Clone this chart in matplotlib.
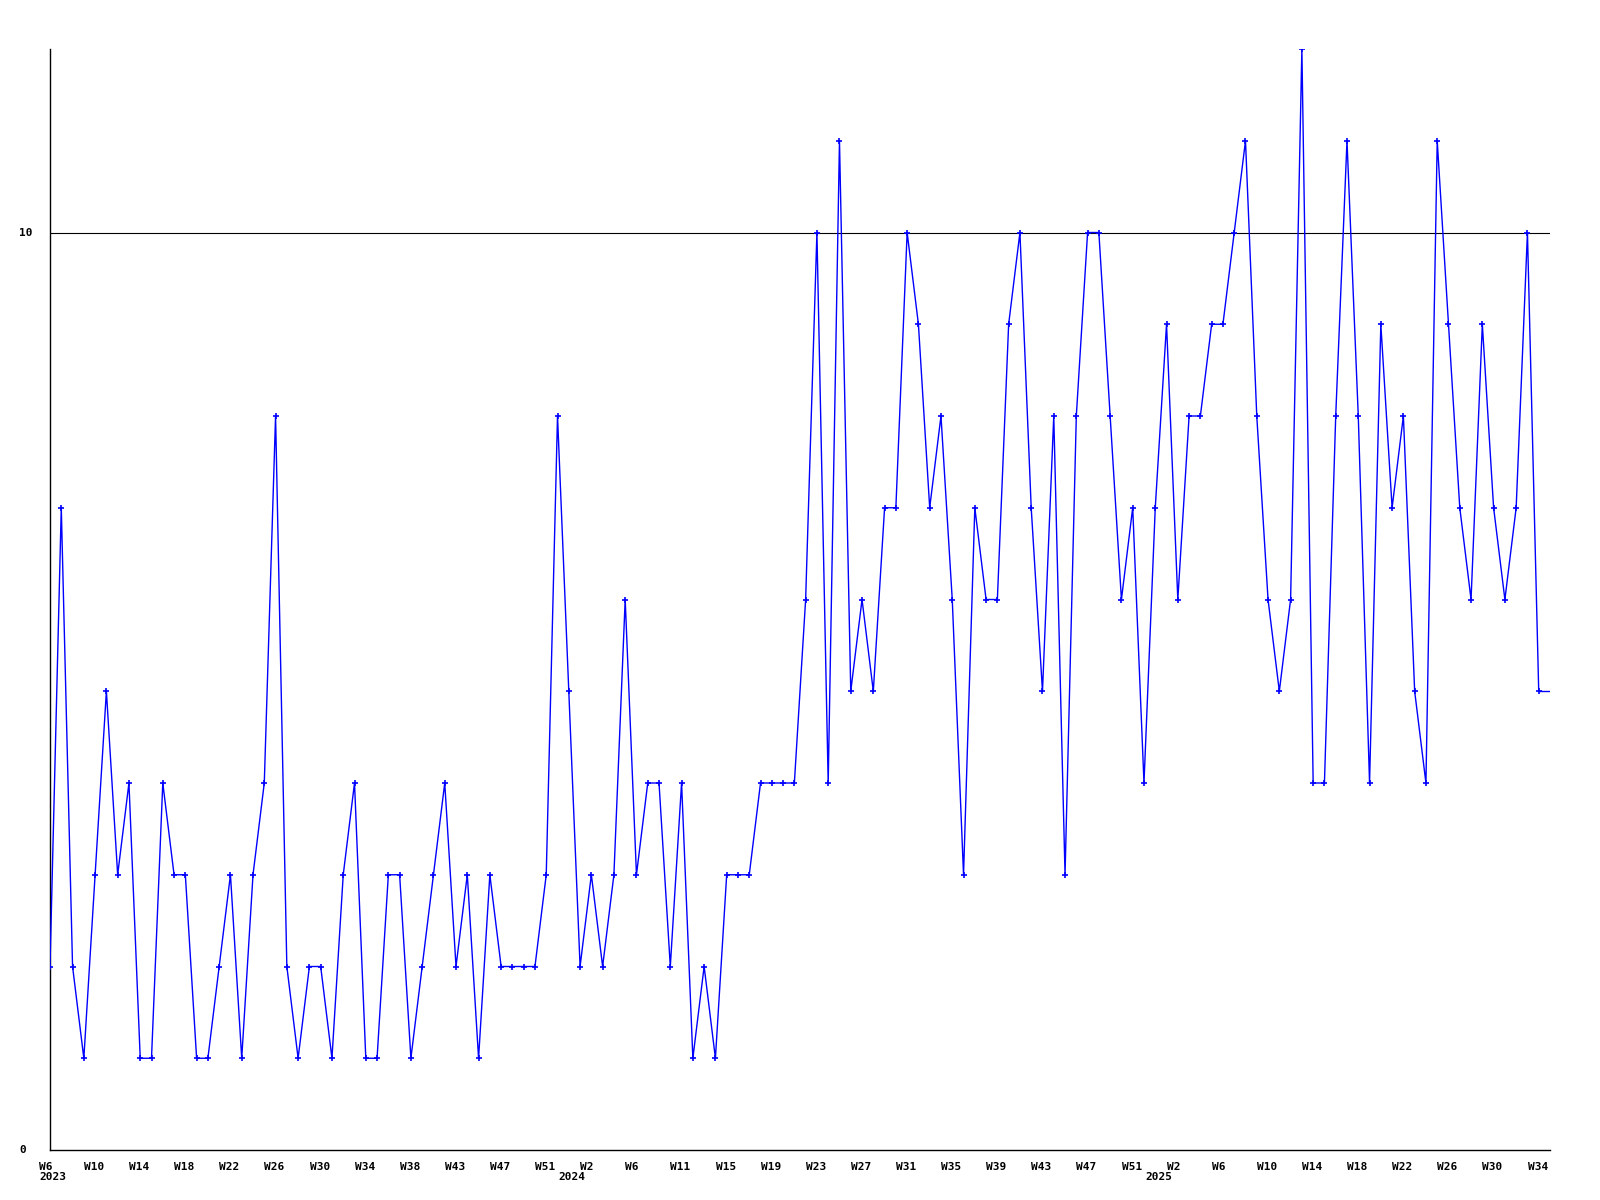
import matplotlib
matplotlib.use('Agg')
import matplotlib.pyplot as plt
import numpy as np

# weekly counts, 2023 W6 .. 2025 W34
counts = [2, 7, 2, 1, 3, 5, 3, 4, 1, 1, 4, 3, 3, 1, 1, 2, 3, 1, 3, 4,
          8, 2, 1, 2, 2, 1, 3, 4, 1, 1, 3, 3, 1, 2, 3, 4, 2, 3, 1, 3,
          2, 2, 2, 2, 3, 8, 5, 2, 3, 2, 3, 6, 3, 4, 4, 2, 4, 1, 2, 1,
          3, 3, 3, 4, 4, 4, 4, 6, 10, 4, 11, 5, 6, 5, 7, 7, 10, 9, 7, 8,
          6, 3, 7, 6, 6, 9, 10, 7, 5, 8, 3, 8, 10, 10, 8, 6, 7, 4, 7, 9,
          6, 8, 8, 9, 9, 10, 11, 8, 6, 5, 6, 12, 4, 4, 8, 11, 8, 4, 9, 7,
          8, 5, 4, 11, 9, 7, 6, 9, 7, 6, 7, 10, 5]

tick_pos = [0, 4, 8, 12, 16, 20, 24, 28, 32, 36, 40, 44,
            48, 52, 56, 60, 64, 68, 72, 76, 80, 84, 88, 92, 96,
            100, 104, 108, 112, 116, 120, 124, 128, 132]
tick_labels = ['W6', 'W10', 'W14', 'W18', 'W22', 'W26', 'W30', 'W34', 'W38', 'W43', 'W47', 'W51',
               'W2', 'W6', 'W11', 'W15', 'W19', 'W23', 'W27', 'W31', 'W35', 'W39', 'W43', 'W47', 'W51',
               'W2', 'W6', 'W10', 'W14', 'W18', 'W22', 'W26', 'W30', 'W34']
years = ['2023', '2024', '2025']
year_pos = [0.27, 46.3, 98.3]

y_ticks = [0, 10]
ref_level = 10

x = np.arange(len(counts))
x_end = len(counts)

fig = plt.figure(figsize=(16, 12), dpi=100)
ax = fig.add_axes([50 / 1600, 50 / 1200, 1500 / 1600, 1101 / 1200])

ax.axhline(ref_level, color='black', lw=0.8, zorder=1)
ax.plot(x, counts, color='#0000ff', lw=1.0, marker='+', ms=4, mew=1.2, zorder=3)
# line continues flat to the right edge
ax.plot([x[-1], x_end], [counts[-1], counts[-1]], color='#0000ff', lw=1.0, zorder=3)

ax.set_xlim(0, x_end)
ax.set_ylim(0, 12)
ax.spines['top'].set_visible(False)
ax.spines['right'].set_visible(False)
ax.spines['left'].set_linewidth(1.0)
ax.spines['bottom'].set_linewidth(1.0)
ax.set_xticks([])
ax.set_yticks([])

fnt = dict(family='DejaVu Sans Mono', weight='bold', size=8)

for p, lab in zip(tick_pos, tick_labels):
    ax.annotate(lab, xy=(p, 0), xycoords=('data', 'axes fraction'),
                xytext=(-8, -12), textcoords='offset points',
                ha='left', va='center', **fnt)

for p, yr in zip(year_pos, years):
    ax.annotate(yr, xy=(p, 0), xycoords=('data', 'axes fraction'),
                xytext=(0, -19.5), textcoords='offset points',
                ha='center', va='center', **fnt)

for yv in y_ticks:
    ax.annotate(str(yv), xy=(0, yv), xycoords=('axes fraction', 'data'),
                xytext=(-22, 0), textcoords='offset points',
                ha='left', va='center', **fnt)

fig.savefig('out.png', dpi=100)
